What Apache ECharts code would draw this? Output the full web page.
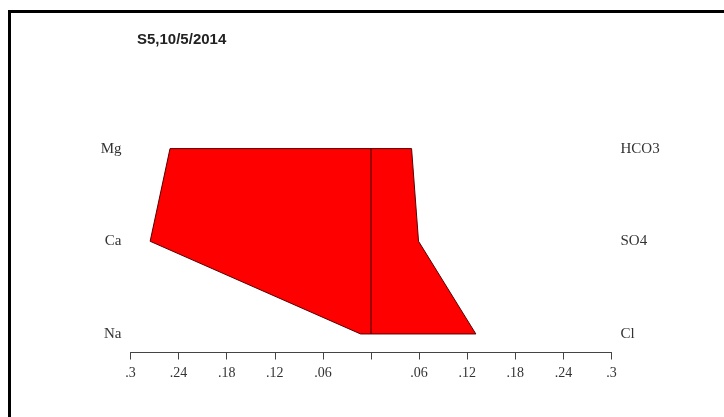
<!DOCTYPE html>
<html>
<head>
<meta charset="utf-8">
<style>
html,body{margin:0;padding:0;background:#fff;}
#chart{width:724px;height:417px;}
</style>
<script src="https://cdn.jsdelivr.net/npm/echarts@6/dist/echarts.min.js"></script>
</head>
<body>
<div id="chart"></div>
<script>
// Stiff diagram data (meq/L)
const titleText = 'S5,10/5/2014';
const cations = ['Na', 'Ca', 'Mg'];          // bottom to top
const anions = ['Cl', 'SO4', 'HCO3'];        // bottom to top
const cationValues = [0.013, 0.2755, 0.2507];
const anionValues = [0.1308, 0.0593, 0.0506];
const rowLevels = [0, 1, 2];
const tickLabels = ['.3', '.24', '.18', '.12', '.06', '', '.06', '.12', '.18', '.24', '.3'];

const chart = echarts.init(document.getElementById('chart'));

const serif = '"Liberation Serif", "DejaVu Serif", serif';

chart.setOption({
  animation: false,
  backgroundColor: '#fff',
  title: {
    text: titleText,
    left: 132, top: 27,
    textStyle: {fontFamily: '"Liberation Sans", Arial, sans-serif', fontWeight: 'bold', fontSize: 15, color: '#222'}
  },
  graphic: [
    {type: 'rect', shape: {x: 8, y: 10, width: 3, height: 407}, style: {fill: '#000'}, silent: true},
    {type: 'rect', shape: {x: 8, y: 10, width: 716, height: 3}, style: {fill: '#000'}, silent: true}
  ],
  grid: {left: 130.5, right: 112.5, top: 148.6, bottom: 64.5},
  xAxis: {
    type: 'value', min: -0.3, max: 0.3, interval: 0.06,
    splitLine: {show: false},
    axisLine: {show: true, onZero: false, lineStyle: {color: '#444', width: 1}},
    axisTick: {show: true, length: 7, lineStyle: {color: '#444'}},
    axisLabel: {
      margin: 14, fontFamily: serif, fontSize: 14, color: '#333',
      formatter: function (v) { return tickLabels[Math.round((v + 0.3) / 0.06)]; }
    }
  },
  yAxis: [
    {
      type: 'value', min: -0.2, max: 2, position: 'left',
      splitLine: {show: false}, axisLine: {show: false}, axisTick: {show: false},
      axisLabel: {
        margin: 9, customValues: rowLevels, fontFamily: serif, fontSize: 15, color: '#333',
        padding: [3, 0, 0, 0],
        formatter: function (v) { return cations[Math.round(v)]; }
      }
    },
    {
      type: 'value', min: -0.2, max: 2, position: 'right',
      splitLine: {show: false}, axisLine: {show: false}, axisTick: {show: false},
      axisLabel: {
        margin: 9, customValues: rowLevels, fontFamily: serif, fontSize: 15, color: '#333',
        padding: [3, 0, 0, 0],
        formatter: function (v) { return anions[Math.round(v)]; }
      }
    }
  ],
  series: [{
    type: 'custom',
    coordinateSystem: 'cartesian2d',
    xAxisIndex: 0, yAxisIndex: 0,
    data: [[0, 0]],
    renderItem: function (params, api) {
      const pts = [];
      for (let i = rowLevels.length - 1; i >= 0; i--) pts.push(api.coord([-cationValues[i], rowLevels[i]]));
      for (let i = 0; i < rowLevels.length; i++) pts.push(api.coord([anionValues[i], rowLevels[i]]));
      const top = api.coord([0, rowLevels[rowLevels.length - 1]]);
      const bot = api.coord([0, rowLevels[0]]);
      return {
        type: 'group',
        children: [
          {type: 'polygon', shape: {points: pts}, style: {fill: '#ff0000', stroke: '#5a0000', lineWidth: 1}},
          {type: 'line', shape: {x1: top[0], y1: top[1], x2: bot[0], y2: bot[1]}, style: {stroke: '#3a0000', lineWidth: 1}}
        ]
      };
    }
  }]
});
</script>
</body>
</html>
